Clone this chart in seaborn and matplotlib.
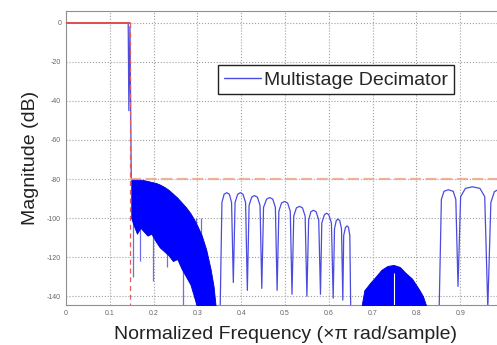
import numpy as np
import pandas as pd
import matplotlib
matplotlib.use("Agg")
import matplotlib.pyplot as plt
from matplotlib.lines import Line2D
import seaborn as sns

# passband edge of the response
passband_f = [0.0, 0.142, 0.1435, 0.146, 0.149]
passband_db = [0.0, 0.0, -45.0, -2.0, -80.0]

# dense first stopband region (drawn as a filled envelope)
dense_f = [0.149, 0.155, 0.162, 0.170, 0.178, 0.186, 0.195, 0.205, 0.214, 0.224, 0.234, 0.244,
           0.254, 0.264, 0.274, 0.284, 0.292, 0.300, 0.310, 0.320, 0.330, 0.337, 0.342]
dense_upper = [-80, -80, -80, -80.3, -80.6, -81, -81.5, -82, -82.8, -84, -85.5, -87.5,
               -89.5, -92, -94.5, -97.5, -100.5, -104, -109, -116, -126, -135, -146]
dense_lower = [-100, -104, -108, -105, -107, -109, -108, -112, -115, -117, -119, -122,
               -121, -126, -130, -134, -140, -146, -146, -146, -146, -146, -146]
spike_f = [0.154, 0.169, 0.198, 0.230, 0.268, 0.297, 0.309]
spike_db = [-130, -122, -132, -125, -146, -146, -146]

# sidelobes 0.35 - 0.65
lobes1_f = [0.352, 0.356, 0.361, 0.367, 0.373, 0.378, 0.382,
            0.386, 0.392, 0.398, 0.404, 0.410, 0.414,
            0.418, 0.424, 0.430, 0.437, 0.443, 0.447,
            0.451, 0.458, 0.465, 0.472, 0.478, 0.482,
            0.486, 0.492, 0.499, 0.506, 0.512, 0.516,
            0.520, 0.526, 0.533, 0.540, 0.546, 0.550,
            0.554, 0.559, 0.565, 0.571, 0.577, 0.581,
            0.584, 0.590, 0.595, 0.600, 0.606, 0.610,
            0.613, 0.617, 0.621, 0.625, 0.629, 0.632,
            0.634, 0.638, 0.642, 0.645, 0.648, 0.650]
lobes1_db = [-146, -92, -87.8, -87, -87.8, -92, -133,
             -92, -87.8, -87, -87.8, -92, -137,
             -93.5, -89.3, -88.5, -89.3, -93.5, -136,
             -94.5, -90.3, -89.5, -90.3, -94.5, -137,
             -96.5, -92.3, -91.5, -92.3, -96.5, -139,
             -99, -94.8, -94, -94.8, -99, -140,
             -101, -96.8, -96, -96.8, -101, -139,
             -102.5, -98.3, -97.5, -98.3, -102.5, -141,
             -105.5, -101.3, -100.5, -101.3, -105.5, -142,
             -109, -104.8, -104, -104.8, -109, -146]

# small hump around 0.75
hump_f = [0.674, 0.681, 0.695, 0.707, 0.720, 0.734, 0.748, 0.762, 0.775, 0.790, 0.806, 0.815, 0.824]
hump_db = [-146, -137, -133, -130, -126.5, -124.5, -124, -125, -128, -131, -136.5, -140, -146]
hump_notch_f = 0.748
hump_notch_db = -128

# sidelobes 0.85 - 1.0
lobes3_f = [0.852, 0.857, 0.863, 0.873, 0.884, 0.890, 0.895,
            0.901, 0.912, 0.928, 0.945, 0.956, 0.963,
            0.970, 0.978, 0.990, 1.0]
lobes3_db = [-146, -90.5, -86.3, -85.5, -86.3, -90.5, -135,
             -89, -84.8, -84, -84.8, -89, -146,
             -92, -86.5, -85, -86]

# specification mask
mask_edge = 0.145
mask_stop_db = -80

xticks = [0, 0.1, 0.2, 0.3, 0.4, 0.5, 0.6, 0.7, 0.8, 0.9]
yticks = [0, -20, -40, -60, -80, -100, -120, -140]

sns.set_style("white")
plt.rcParams["font.family"] = ["Liberation Sans", "DejaVu Sans"]

W, H = 497, 345
fig = plt.figure(figsize=(W / 100, H / 100), dpi=100)
ax = fig.add_axes([66 / W, 1 - 305 / H, (504 - 66) / W, (305 - 11) / H])

line_col = "#4b4be0"
fill_col = "#0000ff"

ax.vlines(spike_f, -100, spike_db, color="#6c6cf0", lw=0.9, zorder=2)
ax.fill_between(dense_f, dense_lower, dense_upper, color=fill_col, lw=0.6, edgecolor="#0000cc", zorder=3)
ax.fill_between(hump_f, -146, hump_db, color=fill_col, lw=0.6, edgecolor="#0000cc", zorder=3)
ax.vlines([hump_notch_f], -146, hump_notch_db, color="white", lw=0.8, zorder=4)

for f, db in [(passband_f, passband_db), (lobes1_f, lobes1_db), (lobes3_f, lobes3_db)]:
    sns.lineplot(x=f, y=db, sort=False, estimator=None, color=line_col, lw=0.9, ax=ax, zorder=4)

# mask
ax.plot([0, mask_edge], [0, 0], color="#e05050", lw=1.4, zorder=6)
ax.plot([mask_edge, mask_edge], [0, -146], color="#e06060", lw=0.9, ls=(0, (4, 3)), zorder=5)
ax.plot([mask_edge, 1.0], [mask_stop_db, mask_stop_db], color="#eba88a", lw=1.6, ls=(0, (5, 2)),
        zorder=5, alpha=0.85)

ax.set_xlim(0, 1)
ax.set_ylim(-144.5, 6)
ax.set_xticks(xticks)
ax.set_xticklabels([f"{t:g}" for t in xticks])
ax.set_yticks(yticks)
ax.set_yticklabels([str(t) for t in yticks])
ax.tick_params(labelsize=5, colors="#666666", length=2, direction="in")
ax.grid(True, ls=":", color="#a0a0a0", lw=0.8)
for s in ax.spines.values():
    s.set_color("#909090")
    s.set_linewidth(0.8)

ax.set_xlabel("Normalized Frequency (\u00d7\u03c0 rad/sample)", fontsize=14, color="#222222", labelpad=6.5)
ax.set_ylabel("Magnitude (dB)", fontsize=14, color="#222222", labelpad=6)

handle = Line2D([0], [0], color=line_col, lw=1.0)
leg = ax.legend([handle], ["Multistage Decimator"], loc="upper left", bbox_to_anchor=(0.347, 0.816),
                borderaxespad=0, fancybox=False, framealpha=1, edgecolor="#222222", fontsize=14,
                handlelength=1.9, handletextpad=0.15, borderpad=0.3)
leg.get_frame().set_linewidth(1.0)

fig.savefig("out.png", dpi=100)
